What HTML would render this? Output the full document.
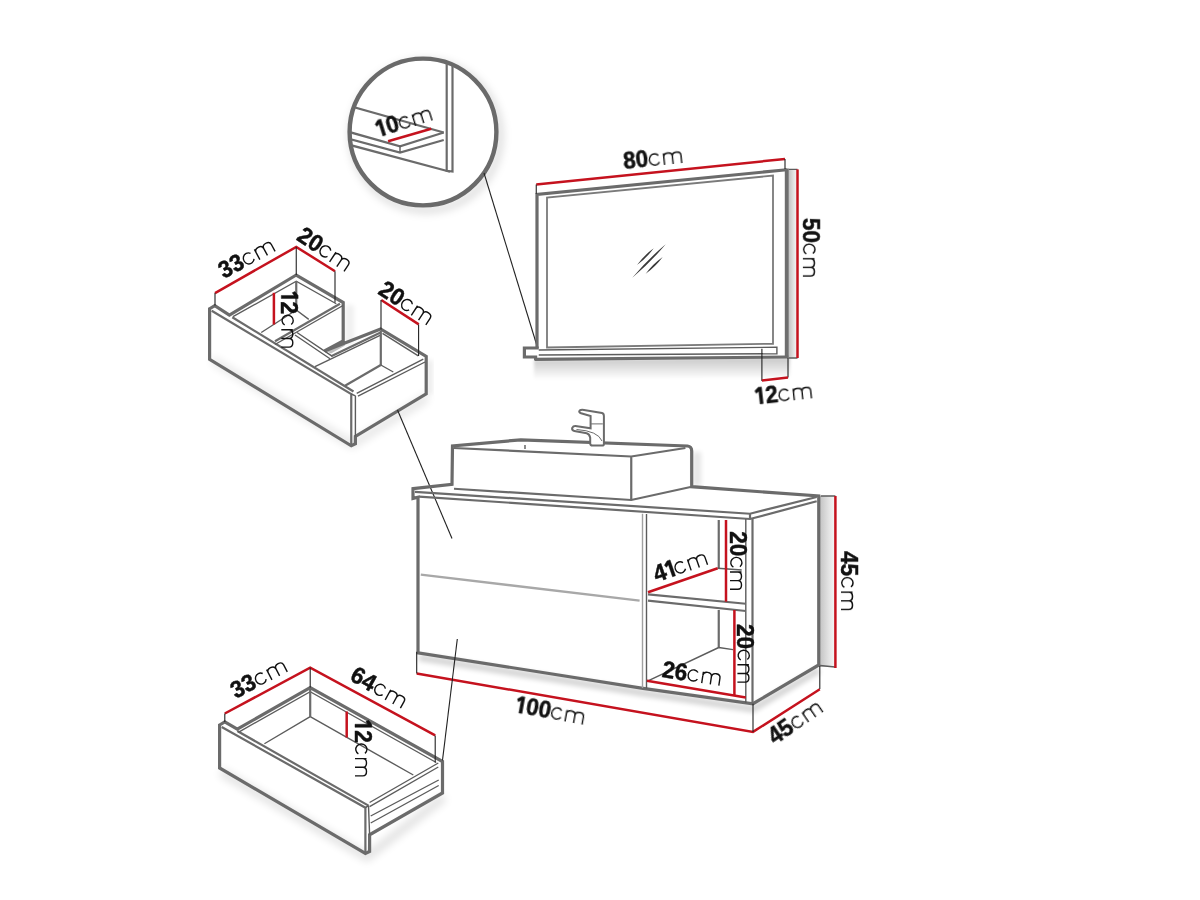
<!DOCTYPE html>
<html><head><meta charset="utf-8">
<style>
html,body{margin:0;padding:0;background:#fff;width:1200px;height:900px;overflow:hidden}
svg{display:block}
.G{stroke:#6b6b6b;stroke-width:3.2;fill:none;stroke-linejoin:miter}
.M{stroke:#6b6b6b;stroke-width:2.2;fill:none}
.T{stroke:#5c5c5c;stroke-width:1.4;fill:none}
.R{stroke:#c5121e;stroke-width:2.5;fill:none}
.L{stroke:#222;stroke-width:1.1;fill:none}
text{font-family:"Liberation Sans",sans-serif;fill:#111}
.b{font-weight:bold}
.cm{fill:none;stroke:#111;stroke-width:1.4}
</style></head>
<body>
<svg width="1200" height="900" viewBox="0 0 1200 900">
<defs>
<filter id="sh" x="-20%" y="-20%" width="140%" height="140%"><feGaussianBlur stdDeviation="4"/></filter>
<filter id="sh2" x="-50%" y="-50%" width="200%" height="200%"><feGaussianBlur stdDeviation="2.5"/></filter>
<clipPath id="cc"><circle cx="423" cy="132" r="72"/></clipPath>
<linearGradient id="shg" x1="0" x2="0" y1="0" y2="1"><stop offset="0" stop-color="#000" stop-opacity="0.22"/><stop offset="1" stop-color="#000" stop-opacity="0"/></linearGradient>
<filter id="sh1" x="-20%" y="-50%" width="140%" height="200%"><feGaussianBlur stdDeviation="1.5"/></filter>
<linearGradient id="side" x1="0" x2="1" y1="0" y2="0"><stop offset="0" stop-color="#c4c4c4"/><stop offset="0.6" stop-color="#e4e4e4"/><stop offset="1" stop-color="#f6f6f6"/></linearGradient>
</defs>

<!-- ============ CIRCLE DETAIL ============ -->
<g id="circle">
<circle cx="426" cy="136" r="74" fill="none" stroke="#000" stroke-opacity="0.16" stroke-width="6" filter="url(#sh)"/>
<circle cx="423" cy="132" r="73" fill="#fff"/>
<g clip-path="url(#cc)">
<path class="M" d="M446.7,40 L446.7,170.8 L452.5,171.5 L452.5,40"/>
<path class="M" d="M340,103.3 L443.75,132.5"/>
<path class="M" d="M340,129.4 L400,146.25 L443.75,132.5"/>
<path class="M" d="M340,136.3 L400,152.5 L443.75,140"/>
<path class="T" d="M400,146.25 L400,152.5"/>
<path class="M" d="M340,142.3 L450,171.7"/>
</g>
<path class="R" d="M388.1,141.25 L431.25,128.75"/>
<circle cx="423" cy="132" r="73.4" fill="none" stroke="#6a6a6a" stroke-width="4.4"/>
</g>
<path class="L" d="M484,173 L537.5,347.5"/>

<!-- ============ MIRROR ============ -->
<g id="mirror">
<path d="M534,360 L790,357.5 L790,377 L534,379.5 Z" fill="url(#shg)" filter="url(#sh1)"/>
<rect x="789" y="169.5" width="8" height="188.5" fill="url(#side)"/>
<path class="T" d="M788.75,169.4 L797.5,169.4 M788.75,358 L797.5,358"/>
<path class="G" d="M537,348 L537,194.4 L786.8,169.75"/>
<path d="M786.8,168.5 L786.8,358" stroke="#6e6e6e" stroke-width="4" fill="none"/>
<path d="M547,347.5 L547,197.5 L773,175.6 L773,343.75 Z" stroke="#7a7a7a" stroke-width="1.8" fill="none"/>
<path class="G" d="M524.4,348 L538.75,348 M524.4,346.5 L524.4,357 L535.6,357 L535.6,360 M534.5,359.4 L788.3,357"/>
<path class="T" d="M538.75,350 L776.9,347.25 L776.9,353.75 L538.75,355"/>
<path class="R" d="M536.25,184.4 L785,159"/>
<path class="L" d="M536.25,184.4 L536.25,193.75 M785,159 L785,169"/>
<path class="R" d="M797.5,169.4 L797.5,358"/>
<path class="L" d="M761.9,348.75 L761.9,381 M788,358 L788,377.5"/>
<path class="R" d="M761.9,380.6 L788,377.5"/>
<path d="M637.0,265.0 Q646.69,257.99 653.7,248.3 Q644.01,255.31 637.0,265.0 Z M632.3,277.7 Q650.48,262.48 665.7,244.3 Q647.52,259.52 632.3,277.7 Z M645.7,273.7 Q655.53,266.71 662.7,257.0 Q652.87,263.99 645.7,273.7 Z" fill="#3a3a3a"/>
</g>

<!-- ============ TOP DRAWER ============ -->
<g id="drawer1">
<path d="M212,364 L352,449 L428,402 L428,392 L352,440 L212,356 Z" fill="#000" opacity="0.10" filter="url(#sh)"/>
<rect x="345" y="305" width="9" height="40" fill="#000" opacity="0.06" filter="url(#sh2)"/>
<path d="M428,360 L432,360 L432,394 L428,394 Z" fill="#000" opacity="0.10" filter="url(#sh2)"/>
<path d="M343.2,340.8 L325.5,350.8 L331,353.6 L345,345.5 Z" fill="#bdbdbd"/>
<path class="G" d="M209.6,308.75 L214.8,305.6 L229.4,315 L296.25,275 L343.2,302.5 L343.2,340.8 L324.5,351 L380.6,329 L426.2,356.5 L426.2,393.75 L355.4,436.5 L355.4,443.75 L351.25,445.8 L209.6,359.4 Z"/>
<path class="M" d="M211.7,310.8 L351.25,394 L351.25,445"/>
<path class="M" d="M232.3,317.3 L353.5,391.5"/>
<path class="M" d="M331.2,356.3 L380.6,332.4"/>
<path class="T" d="M315,366.6 L380.6,335.2"/>
<path class="T" d="M356.7,393.3 L423.3,359.2 M358,396.2 L425,362 M355.4,395.8 L355.4,436.5 M351.25,394 L355.4,395.8"/>
<path class="T" d="M233,316.7 L296.25,281.25 L336.25,303.75"/>
<path class="M" d="M296.25,281 L296.25,310"/>
<path class="T" d="M296.25,310 L261.25,332.5 M296.25,310 L308.75,319.4"/>
<path class="M" d="M275,341.25 L340,303.75"/>
<path class="T" d="M275,344.5 L343,305.5"/>
<path class="T" d="M295,335 L330,358.75 M297,332.5 L332,356.2"/>
<path class="M" d="M380.8,331 L380.8,365"/>
<path class="M" d="M380.8,365 L345,385.8"/>
<path class="T" d="M380.8,365 L393.3,372"/>
<path class="T" d="M382.5,333.3 L418.3,355.8"/>
<path class="R" d="M215,293.1 L296.25,246.9 L335,271.25"/>
<path class="R" d="M381.25,300 L418.75,324.4"/>
<path class="R" d="M273.9,292.8 L273.9,324.5"/>
<path class="L" d="M215,293 L215,305.6 M296.25,247 L296.25,275 M335,271.25 L335,302.5 M381,300 L381,329.5 M418.6,324.4 L418.6,356"/>
</g>
<path class="L" d="M397.5,410 L452,538.5"/>

<!-- ============ CABINET ============ -->
<g id="cabinet">
<path d="M419,657.5 L643,693 L753,709 L819,670" stroke="#000" stroke-width="7" fill="none" opacity="0.16" filter="url(#sh2)"/>
<rect x="693" y="452" width="8" height="34" fill="#000" opacity="0.10" filter="url(#sh2)"/>
<rect x="820" y="496" width="15" height="171" fill="url(#side)"/>
<path class="T" d="M820.8,496 L835.4,496 M820,665.5 L835,667"/>
<path class="G" d="M413,488.7 L452,484.4 L452.5,446 L520.8,439.8 L687.5,446 Q691.7,446.5 691.7,451 L691.7,486.7 L818.75,496 L818.75,665 L753,703.75 L643,688.3 L418,652.8 L418,497.3 L413,498.4 Z"/>
<path class="M" d="M454,448 L631.25,456.5 L685.4,448 M631.25,456.5 L631.25,500 M454,488.75 L631.25,500 L691.7,486.7"/>
<path class="M" d="M415,491.8 L750,513.75 L816.7,497 M419,496.6 L750,519 L816.7,501.25 M750,513.75 L750,519"/>
<path d="M642.5,513.75 L642.5,688" stroke="#a0a0a0" stroke-width="1.4" fill="none"/>
<path class="T" d="M646.5,514 L646.5,688.5 M745.8,519 L745.8,703"/>
<path class="M" d="M752.5,519 L752.5,703.75"/>
<path class="M" d="M718.75,520 L718.75,568 M718.75,610 L718.75,647.5"/>
<path class="T" d="M717.7,568.3 L741.7,570"/>
<path class="M" d="M648,594.4 L745.8,603.75 M648,600.6 L745.8,611"/>
<path class="T" d="M718.75,647.5 L648,680.8 M718.75,647.5 L733,649.6"/>
<path d="M420.8,574.6 L639.6,600.6" stroke="#a8a8a8" stroke-width="2.4" fill="none"/>
<path class="T" d="M525,445 L525,449"/>
<!-- faucet -->
<path d="M590.6,428.3 L590.6,416.1 L581.1,413.3 Q578.3,412 579.6,410.6 Q581,409.5 584,410 L602,413 Q603.9,413.5 603.9,416 L603.9,444 Q603.9,445.6 602,445.6 L592.5,445.6 Q590.2,445.6 590.2,443.5 L590.2,437.8 Q589.5,434 586.7,433.3 L574.4,431.1 Q571.5,430 572.2,428 Q573.2,426 575.5,426.1 Z" fill="#fff" stroke="#6b6b6b" stroke-width="2"/>
<path d="M591.1,423.9 L602.8,423.9 M576.5,429.5 Q598,431 602,441" stroke="#6b6b6b" stroke-width="1" fill="none"/>
<path class="R" d="M835.4,496 L835.4,668"/>
<path class="R" d="M416.7,673.5 L753,731.9 L819.8,689.2"/>
<path class="L" d="M416.7,651.7 L416.7,673.5 M753,703.75 L753,731.9 M819.8,666 L819.8,689"/>
<path class="R" d="M648,592.3 L717.7,568.3"/>
<path class="R" d="M726,520 L726,601.7"/>
<path class="R" d="M734.4,610 L734.4,695.4"/>
<path class="R" d="M646.9,680.8 L745.8,697.5"/>
</g>

<!-- ============ BOTTOM DRAWER ============ -->
<g id="drawer2">
<path d="M221,772 L367,857 L444,797" stroke="#000" stroke-width="8" fill="none" opacity="0.12" filter="url(#sh)"/>
<path class="G" d="M219.6,725 L224.8,721.9 L237.3,729.2 L310.2,687.5 L442.5,761.5 L442.5,793 L369.6,834.8 L369.6,851.5 L365.4,853.5 L219.6,768 Z"/>
<path class="M" d="M221.7,727 L365.4,807.7 L365.4,853 M237.3,731 L368.5,805.6"/>
<path class="T" d="M368.5,805.6 L369.6,834.8 M365.4,807.7 L368.5,805.6"/>
<path class="T" d="M238.3,732.3 L310.2,691.7 L436.25,762.5"/>
<path class="M" d="M310.2,688 L310.2,716.7"/>
<path class="T" d="M310.2,716.7 L264.4,743.75 M310.2,716.7 L413.3,775"/>
<path class="T" d="M369.6,802.5 L438.3,763 M369.6,806.7 L438.3,767 M370.7,816 L438.7,780 M370.7,823 L438.7,785.5"/>
<path class="R" d="M224.8,713.5 L310.2,667.7 L435.2,735.4"/>
<path class="R" d="M346.7,711.5 L346.7,737.5"/>
<path class="L" d="M224.8,713.5 L224.8,722 M310.2,667.7 L310.2,687.5 M435.2,735.4 L435.2,762.5"/>
</g>
<path class="L" d="M442.5,760.4 L457.3,639"/>
<g id="labels" opacity="0.999">
<g transform="translate(378.78,137.33) rotate(-17.5)"><g transform="scale(1,1.05)"><path transform="translate(0.00,0)" d="M4.3,-16.0 L7.4,-16.0 L7.4,0 L4.3,0 L4.3,-12.2 L1.6,-10.4 L0.4,-12.9 Z" fill="#111" stroke="#111" stroke-width="0.45"/><text x="10.40" font-size="22.6" font-weight="bold" stroke="#111" stroke-width="0.45">0</text></g><path transform="translate(23.34,0)" d="M10.06,-9.95 A5.3,5.6 0 1 0 10.49,-3.38 M15.3,0 V-11.5 M15.3,-7.8 C15.3,-10.3 17.1,-11.5 19.6,-11.5 C22.2,-11.5 23.95,-10.3 23.95,-7.8 V0 M23.95,-7.8 C23.95,-10.3 25.75,-11.5 28.3,-11.5 C30.8,-11.5 32.6,-10.3 32.6,-7.8 V0" class="cm"/></g>
<g transform="translate(624.01,169.15) rotate(-6)"><g transform="scale(1,1.05)"><text x="0.00" font-size="22.6" font-weight="bold" stroke="#111" stroke-width="0.45">8</text><text x="12.57" font-size="22.6" font-weight="bold" stroke="#111" stroke-width="0.45">0</text></g><path transform="translate(25.51,0)" d="M10.06,-9.95 A5.3,5.6 0 1 0 10.49,-3.38 M15.3,0 V-11.5 M15.3,-7.8 C15.3,-10.3 17.1,-11.5 19.6,-11.5 C22.2,-11.5 23.95,-10.3 23.95,-7.8 V0 M23.95,-7.8 C23.95,-10.3 25.75,-11.5 28.3,-11.5 C30.8,-11.5 32.6,-10.3 32.6,-7.8 V0" class="cm"/></g>
<g transform="translate(802.90,217.89) rotate(90)"><g transform="scale(1,1.05)"><text x="0.00" font-size="22.6" font-weight="bold" stroke="#111" stroke-width="0.45">5</text><text x="12.57" font-size="22.6" font-weight="bold" stroke="#111" stroke-width="0.45">0</text></g><path transform="translate(25.51,0)" d="M10.06,-9.95 A5.3,5.6 0 1 0 10.49,-3.38 M15.3,0 V-11.5 M15.3,-7.8 C15.3,-10.3 17.1,-11.5 19.6,-11.5 C22.2,-11.5 23.95,-10.3 23.95,-7.8 V0 M23.95,-7.8 C23.95,-10.3 25.75,-11.5 28.3,-11.5 C30.8,-11.5 32.6,-10.3 32.6,-7.8 V0" class="cm"/></g>
<g transform="translate(755.87,404.42) rotate(-6.2)"><g transform="scale(1,1.05)"><path transform="translate(0.00,0)" d="M4.3,-16.0 L7.4,-16.0 L7.4,0 L4.3,0 L4.3,-12.2 L1.6,-10.4 L0.4,-12.9 Z" fill="#111" stroke="#111" stroke-width="0.45"/><text x="10.40" font-size="22.6" font-weight="bold" stroke="#111" stroke-width="0.45">2</text></g><path transform="translate(23.36,0)" d="M10.06,-9.95 A5.3,5.6 0 1 0 10.49,-3.38 M15.3,0 V-11.5 M15.3,-7.8 C15.3,-10.3 17.1,-11.5 19.6,-11.5 C22.2,-11.5 23.95,-10.3 23.95,-7.8 V0 M23.95,-7.8 C23.95,-10.3 25.75,-11.5 28.3,-11.5 C30.8,-11.5 32.6,-10.3 32.6,-7.8 V0" class="cm"/></g>
<g transform="translate(223.87,279.02) rotate(-28.4)"><g transform="scale(1,1.05)"><text x="0.00" font-size="22.6" font-weight="bold" stroke="#111" stroke-width="0.45">3</text><text x="12.57" font-size="22.6" font-weight="bold" stroke="#111" stroke-width="0.45">3</text></g><path transform="translate(25.62,0)" d="M10.06,-9.95 A5.3,5.6 0 1 0 10.49,-3.38 M15.3,0 V-11.5 M15.3,-7.8 C15.3,-10.3 17.1,-11.5 19.6,-11.5 C22.2,-11.5 23.95,-10.3 23.95,-7.8 V0 M23.95,-7.8 C23.95,-10.3 25.75,-11.5 28.3,-11.5 C30.8,-11.5 32.6,-10.3 32.6,-7.8 V0" class="cm"/></g>
<g transform="translate(295.61,239.25) rotate(33.6)"><g transform="scale(1,1.05)"><text x="0.00" font-size="22.6" font-weight="bold" stroke="#111" stroke-width="0.45">2</text><text x="12.57" font-size="22.6" font-weight="bold" stroke="#111" stroke-width="0.45">0</text></g><path transform="translate(25.51,0)" d="M10.06,-9.95 A5.3,5.6 0 1 0 10.49,-3.38 M15.3,0 V-11.5 M15.3,-7.8 C15.3,-10.3 17.1,-11.5 19.6,-11.5 C22.2,-11.5 23.95,-10.3 23.95,-7.8 V0 M23.95,-7.8 C23.95,-10.3 25.75,-11.5 28.3,-11.5 C30.8,-11.5 32.6,-10.3 32.6,-7.8 V0" class="cm"/></g>
<g transform="translate(377.08,293.17) rotate(33)"><g transform="scale(1,1.05)"><text x="0.00" font-size="22.6" font-weight="bold" stroke="#111" stroke-width="0.45">2</text><text x="12.57" font-size="22.6" font-weight="bold" stroke="#111" stroke-width="0.45">0</text></g><path transform="translate(25.51,0)" d="M10.06,-9.95 A5.3,5.6 0 1 0 10.49,-3.38 M15.3,0 V-11.5 M15.3,-7.8 C15.3,-10.3 17.1,-11.5 19.6,-11.5 C22.2,-11.5 23.95,-10.3 23.95,-7.8 V0 M23.95,-7.8 C23.95,-10.3 25.75,-11.5 28.3,-11.5 C30.8,-11.5 32.6,-10.3 32.6,-7.8 V0" class="cm"/></g>
<g transform="translate(281.30,291.14) rotate(90)"><g transform="scale(1,1.05)"><path transform="translate(0.00,0)" d="M4.3,-16.0 L7.4,-16.0 L7.4,0 L4.3,0 L4.3,-12.2 L1.6,-10.4 L0.4,-12.9 Z" fill="#111" stroke="#111" stroke-width="0.45"/><text x="10.40" font-size="22.6" font-weight="bold" stroke="#111" stroke-width="0.45">2</text></g><path transform="translate(23.36,0)" d="M10.06,-9.95 A5.3,5.6 0 1 0 10.49,-3.38 M15.3,0 V-11.5 M15.3,-7.8 C15.3,-10.3 17.1,-11.5 19.6,-11.5 C22.2,-11.5 23.95,-10.3 23.95,-7.8 V0 M23.95,-7.8 C23.95,-10.3 25.75,-11.5 28.3,-11.5 C30.8,-11.5 32.6,-10.3 32.6,-7.8 V0" class="cm"/></g>
<g transform="translate(656.60,582.27) rotate(-19)"><g transform="scale(1,1.05)"><text x="0.00" font-size="22.6" font-weight="bold" stroke="#111" stroke-width="0.45">4</text><path transform="translate(12.57,0)" d="M4.3,-16.0 L7.4,-16.0 L7.4,0 L4.3,0 L4.3,-12.2 L1.6,-10.4 L0.4,-12.9 Z" fill="#111" stroke="#111" stroke-width="0.45"/></g><path transform="translate(21.27,0)" d="M10.06,-9.95 A5.3,5.6 0 1 0 10.49,-3.38 M15.3,0 V-11.5 M15.3,-7.8 C15.3,-10.3 17.1,-11.5 19.6,-11.5 C22.2,-11.5 23.95,-10.3 23.95,-7.8 V0 M23.95,-7.8 C23.95,-10.3 25.75,-11.5 28.3,-11.5 C30.8,-11.5 32.6,-10.3 32.6,-7.8 V0" class="cm"/></g>
<g transform="translate(730.00,531.19) rotate(90)"><g transform="scale(1,1.05)"><text x="0.00" font-size="22.6" font-weight="bold" stroke="#111" stroke-width="0.45">2</text><text x="12.57" font-size="22.6" font-weight="bold" stroke="#111" stroke-width="0.45">0</text></g><path transform="translate(25.51,0)" d="M10.06,-9.95 A5.3,5.6 0 1 0 10.49,-3.38 M15.3,0 V-11.5 M15.3,-7.8 C15.3,-10.3 17.1,-11.5 19.6,-11.5 C22.2,-11.5 23.95,-10.3 23.95,-7.8 V0 M23.95,-7.8 C23.95,-10.3 25.75,-11.5 28.3,-11.5 C30.8,-11.5 32.6,-10.3 32.6,-7.8 V0" class="cm"/></g>
<g transform="translate(737.40,623.99) rotate(90)"><g transform="scale(1,1.05)"><text x="0.00" font-size="22.6" font-weight="bold" stroke="#111" stroke-width="0.45">2</text><text x="12.57" font-size="22.6" font-weight="bold" stroke="#111" stroke-width="0.45">0</text></g><path transform="translate(25.51,0)" d="M10.06,-9.95 A5.3,5.6 0 1 0 10.49,-3.38 M15.3,0 V-11.5 M15.3,-7.8 C15.3,-10.3 17.1,-11.5 19.6,-11.5 C22.2,-11.5 23.95,-10.3 23.95,-7.8 V0 M23.95,-7.8 C23.95,-10.3 25.75,-11.5 28.3,-11.5 C30.8,-11.5 32.6,-10.3 32.6,-7.8 V0" class="cm"/></g>
<g transform="translate(661.23,677.09) rotate(8.5)"><g transform="scale(1,1.05)"><text x="0.00" font-size="22.6" font-weight="bold" stroke="#111" stroke-width="0.45">2</text><text x="12.57" font-size="22.6" font-weight="bold" stroke="#111" stroke-width="0.45">6</text></g><path transform="translate(25.62,0)" d="M10.06,-9.95 A5.3,5.6 0 1 0 10.49,-3.38 M15.3,0 V-11.5 M15.3,-7.8 C15.3,-10.3 17.1,-11.5 19.6,-11.5 C22.2,-11.5 23.95,-10.3 23.95,-7.8 V0 M23.95,-7.8 C23.95,-10.3 25.75,-11.5 28.3,-11.5 C30.8,-11.5 32.6,-10.3 32.6,-7.8 V0" class="cm"/></g>
<g transform="translate(514.63,712.21) rotate(10.4)"><g transform="scale(1,1.05)"><path transform="translate(0.00,0)" d="M4.3,-16.0 L7.4,-16.0 L7.4,0 L4.3,0 L4.3,-12.2 L1.6,-10.4 L0.4,-12.9 Z" fill="#111" stroke="#111" stroke-width="0.45"/><text x="10.40" font-size="22.6" font-weight="bold" stroke="#111" stroke-width="0.45">0</text><text x="22.97" font-size="22.6" font-weight="bold" stroke="#111" stroke-width="0.45">0</text></g><path transform="translate(35.91,0)" d="M10.06,-9.95 A5.3,5.6 0 1 0 10.49,-3.38 M15.3,0 V-11.5 M15.3,-7.8 C15.3,-10.3 17.1,-11.5 19.6,-11.5 C22.2,-11.5 23.95,-10.3 23.95,-7.8 V0 M23.95,-7.8 C23.95,-10.3 25.75,-11.5 28.3,-11.5 C30.8,-11.5 32.6,-10.3 32.6,-7.8 V0" class="cm"/></g>
<g transform="translate(774.79,745.28) rotate(-34.5)"><g transform="scale(1,1.05)"><text x="0.00" font-size="22.6" font-weight="bold" stroke="#111" stroke-width="0.45">4</text><text x="12.57" font-size="22.6" font-weight="bold" stroke="#111" stroke-width="0.45">5</text></g><path transform="translate(25.81,0)" d="M10.06,-9.95 A5.3,5.6 0 1 0 10.49,-3.38 M15.3,0 V-11.5 M15.3,-7.8 C15.3,-10.3 17.1,-11.5 19.6,-11.5 C22.2,-11.5 23.95,-10.3 23.95,-7.8 V0 M23.95,-7.8 C23.95,-10.3 25.75,-11.5 28.3,-11.5 C30.8,-11.5 32.6,-10.3 32.6,-7.8 V0" class="cm"/></g>
<g transform="translate(841.00,551.09) rotate(90)"><g transform="scale(1,1.05)"><text x="0.00" font-size="22.6" font-weight="bold" stroke="#111" stroke-width="0.45">4</text><text x="12.57" font-size="22.6" font-weight="bold" stroke="#111" stroke-width="0.45">5</text></g><path transform="translate(25.81,0)" d="M10.06,-9.95 A5.3,5.6 0 1 0 10.49,-3.38 M15.3,0 V-11.5 M15.3,-7.8 C15.3,-10.3 17.1,-11.5 19.6,-11.5 C22.2,-11.5 23.95,-10.3 23.95,-7.8 V0 M23.95,-7.8 C23.95,-10.3 25.75,-11.5 28.3,-11.5 C30.8,-11.5 32.6,-10.3 32.6,-7.8 V0" class="cm"/></g>
<g transform="translate(235.73,698.89) rotate(-27.7)"><g transform="scale(1,1.05)"><text x="0.00" font-size="22.6" font-weight="bold" stroke="#111" stroke-width="0.45">3</text><text x="12.57" font-size="22.6" font-weight="bold" stroke="#111" stroke-width="0.45">3</text></g><path transform="translate(25.62,0)" d="M10.06,-9.95 A5.3,5.6 0 1 0 10.49,-3.38 M15.3,0 V-11.5 M15.3,-7.8 C15.3,-10.3 17.1,-11.5 19.6,-11.5 C22.2,-11.5 23.95,-10.3 23.95,-7.8 V0 M23.95,-7.8 C23.95,-10.3 25.75,-11.5 28.3,-11.5 C30.8,-11.5 32.6,-10.3 32.6,-7.8 V0" class="cm"/></g>
<g transform="translate(348.71,679.87) rotate(28.7)"><g transform="scale(1,1.05)"><text x="0.00" font-size="22.6" font-weight="bold" stroke="#111" stroke-width="0.45">6</text><text x="12.57" font-size="22.6" font-weight="bold" stroke="#111" stroke-width="0.45">4</text></g><path transform="translate(26.32,0)" d="M10.06,-9.95 A5.3,5.6 0 1 0 10.49,-3.38 M15.3,0 V-11.5 M15.3,-7.8 C15.3,-10.3 17.1,-11.5 19.6,-11.5 C22.2,-11.5 23.95,-10.3 23.95,-7.8 V0 M23.95,-7.8 C23.95,-10.3 25.75,-11.5 28.3,-11.5 C30.8,-11.5 32.6,-10.3 32.6,-7.8 V0" class="cm"/></g>
<g transform="translate(355.00,719.94) rotate(90)"><g transform="scale(1,1.05)"><path transform="translate(0.00,0)" d="M4.3,-16.0 L7.4,-16.0 L7.4,0 L4.3,0 L4.3,-12.2 L1.6,-10.4 L0.4,-12.9 Z" fill="#111" stroke="#111" stroke-width="0.45"/><text x="10.40" font-size="22.6" font-weight="bold" stroke="#111" stroke-width="0.45">2</text></g><path transform="translate(23.36,0)" d="M10.06,-9.95 A5.3,5.6 0 1 0 10.49,-3.38 M15.3,0 V-11.5 M15.3,-7.8 C15.3,-10.3 17.1,-11.5 19.6,-11.5 C22.2,-11.5 23.95,-10.3 23.95,-7.8 V0 M23.95,-7.8 C23.95,-10.3 25.75,-11.5 28.3,-11.5 C30.8,-11.5 32.6,-10.3 32.6,-7.8 V0" class="cm"/></g>
</g>
</svg>
</body></html>
